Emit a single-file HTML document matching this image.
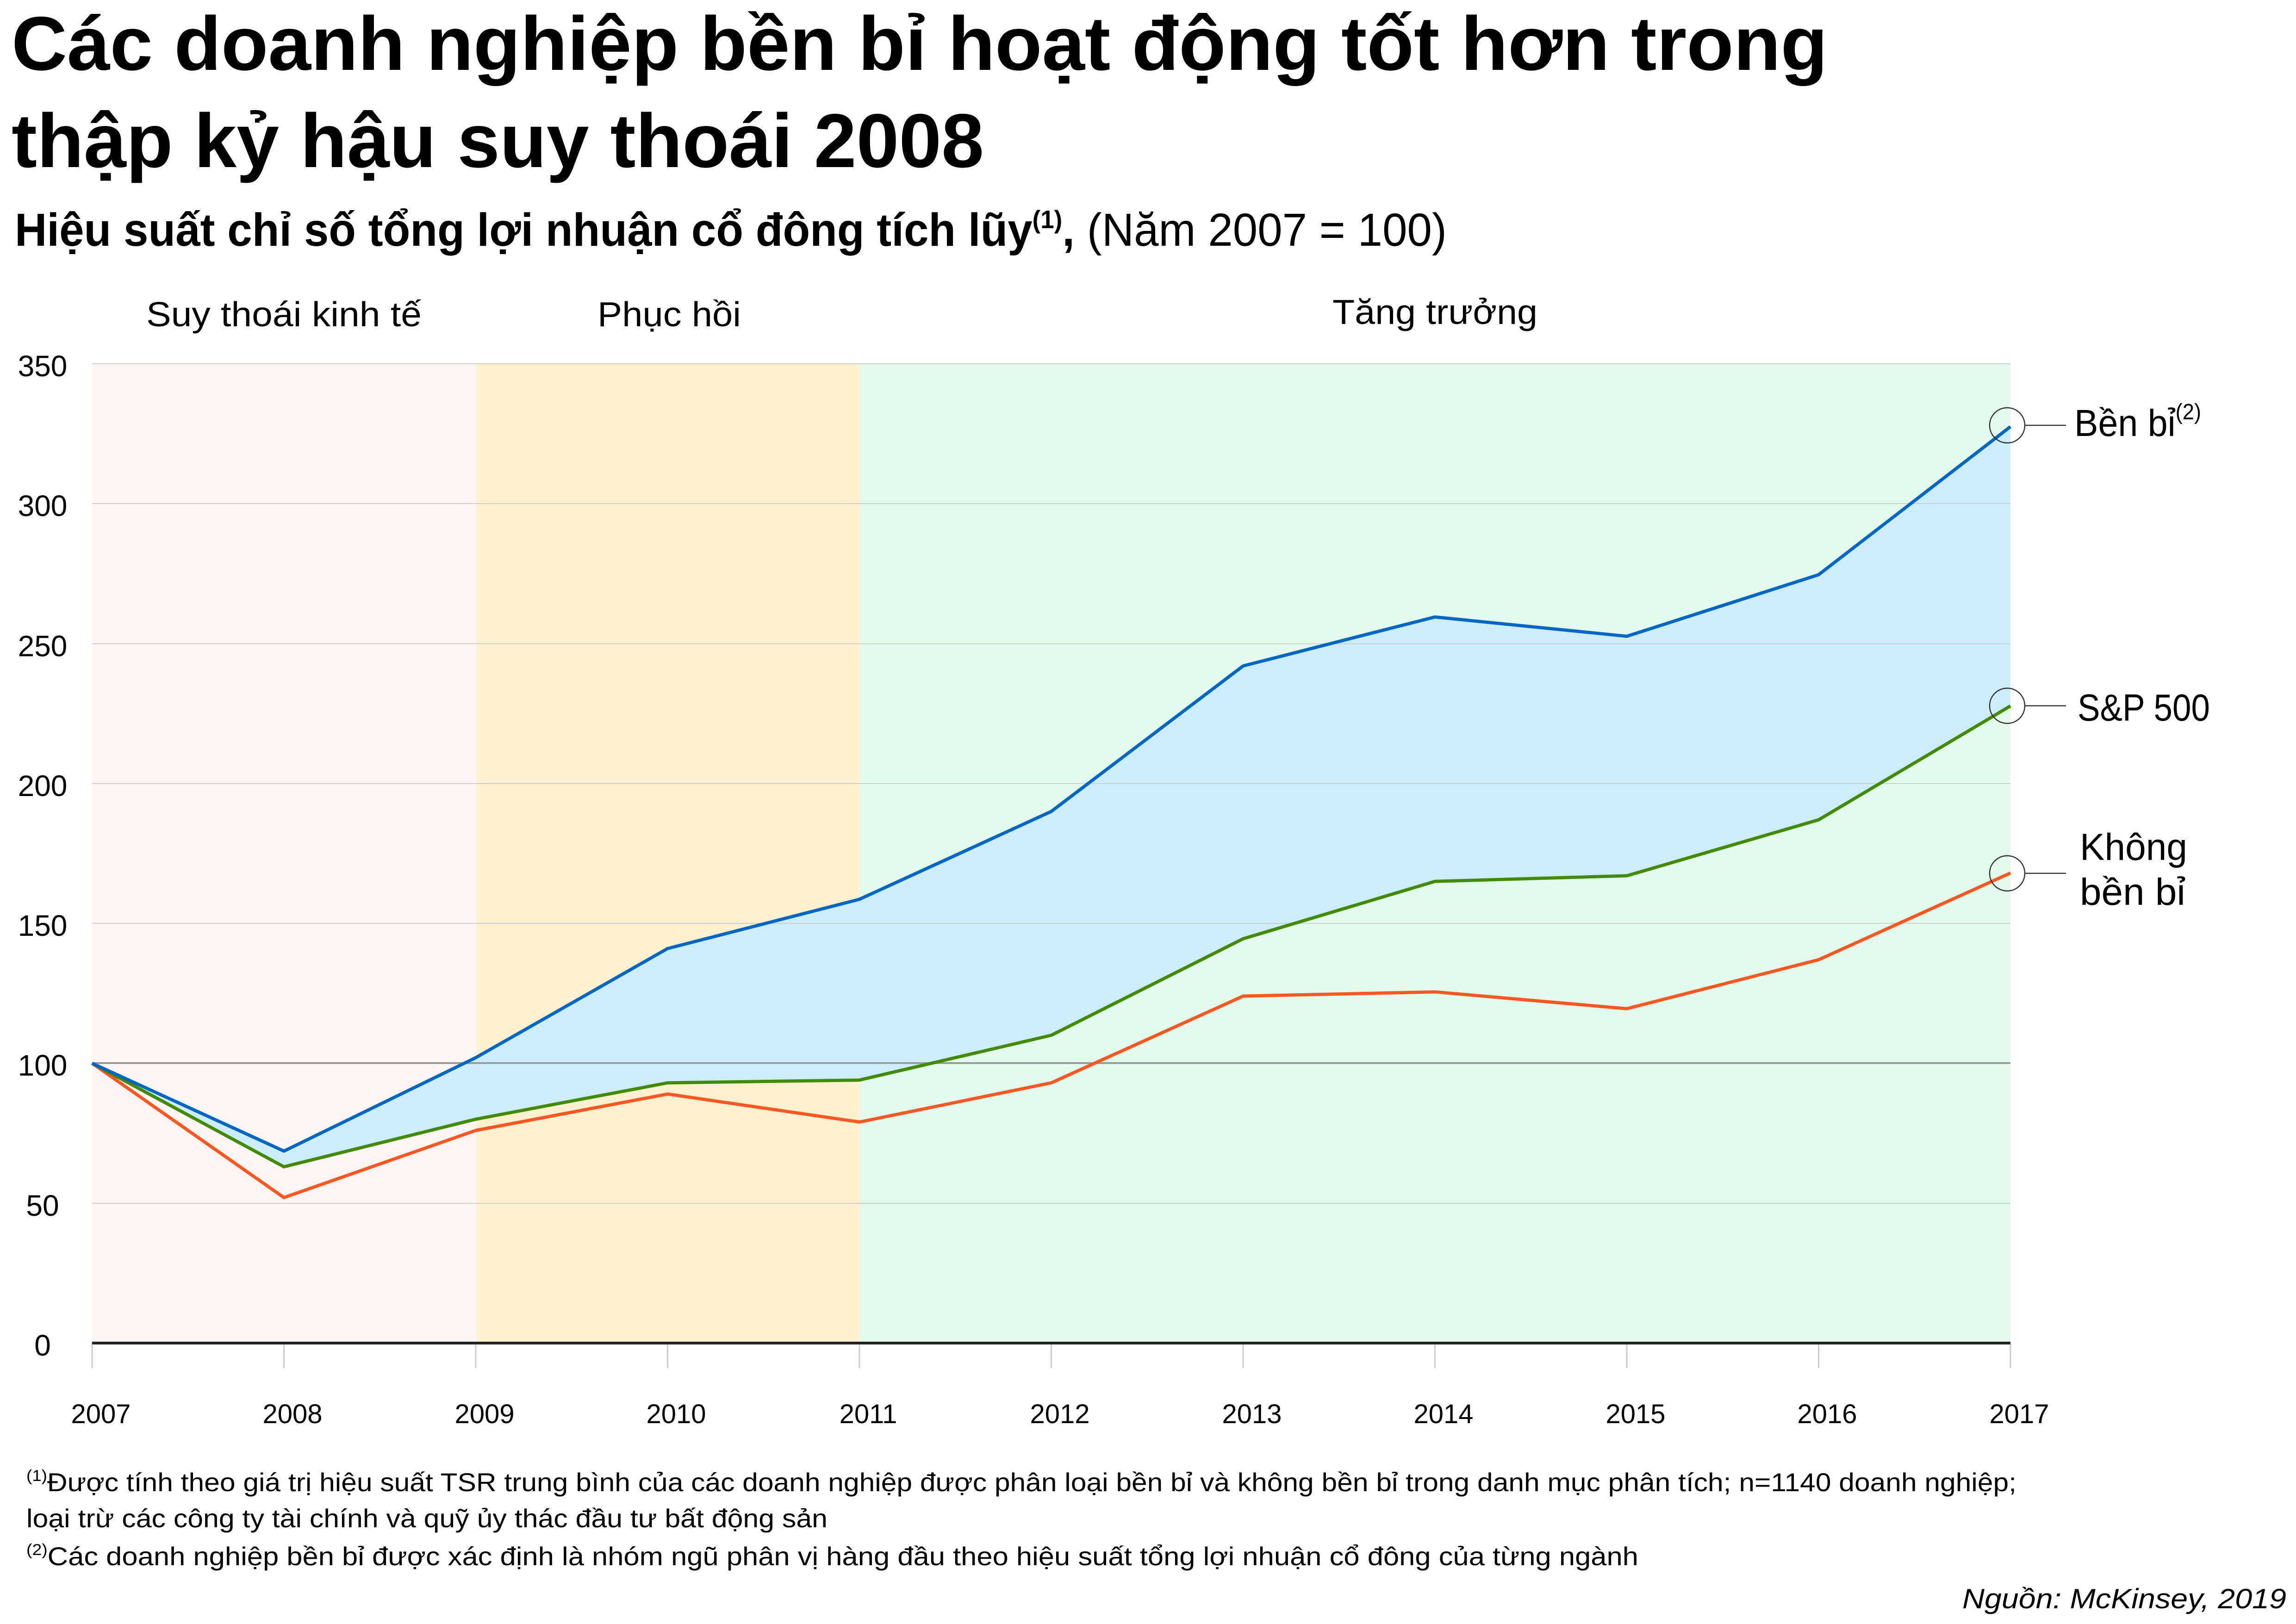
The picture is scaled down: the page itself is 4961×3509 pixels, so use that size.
<!DOCTYPE html>
<html><head><meta charset="utf-8"><style>html,body{margin:0;padding:0;background:#fff}svg{display:block}</style></head>
<body>
<svg width="4961" height="3509" viewBox="0 0 4961 3509" xmlns="http://www.w3.org/2000/svg" font-family="'Liberation Sans', sans-serif">
<rect width="4961" height="3509" fill="#fff"/>
<!-- titles -->
<text x="25" y="151" font-size="165" font-weight="bold" textLength="3924" lengthAdjust="spacingAndGlyphs">Các doanh nghiệp bền bỉ hoạt động tốt hơn trong</text>
<text x="25" y="361" font-size="165" font-weight="bold" textLength="2101" lengthAdjust="spacingAndGlyphs">thập kỷ hậu suy thoái 2008</text>
<text x="32" y="531" font-size="100" textLength="3094" lengthAdjust="spacingAndGlyphs"><tspan font-weight="bold">Hiệu suất chỉ số tổng lợi nhuận cổ đông tích lũy</tspan><tspan font-size="55" dy="-38" font-weight="bold">(1)</tspan><tspan dy="38" font-weight="bold">,</tspan> (Năm 2007 = 100)</text>
<text x="316" y="705" font-size="75" textLength="595" lengthAdjust="spacingAndGlyphs">Suy thoái kinh tế</text>
<text x="1291" y="705" font-size="75" textLength="310" lengthAdjust="spacingAndGlyphs">Phục hồi</text>
<text x="2879" y="700" font-size="75" textLength="443" lengthAdjust="spacingAndGlyphs">Tăng trưởng</text>
<!-- backgrounds -->
<rect x="199" y="786" width="830" height="2116" fill="#fdf5f3"/>
<rect x="1029" y="786" width="828" height="2116" fill="#fff0cf"/>
<rect x="1857" y="786" width="2487" height="2116" fill="#e3fbeb"/>
<!-- fill between blue and green -->
<polygon fill="#cdedfd" points="199,2297.4 613.5,2487.2 1028,2285.3 1442.5,2049.5 1857,1943.1 2271.5,1753.3 2686,1438.9 3100.5,1333.1 3515,1374.8 3929.5,1241.8 4344,921.9 4344,1525.3 3929.5,1771.4 3515,1892.3 3100.5,1904.4 2686,2028.4 2271.5,2236.9 1857,2333.7 1442.5,2339.7 1028,2418.3 613.5,2521.1"/>
<!-- gridlines -->
<g stroke="#cfcfcf" stroke-width="2">
<line x1="199" x2="4344" y1="786" y2="786"/>
<line x1="199" x2="4344" y1="1088" y2="1088"/>
<line x1="199" x2="4344" y1="1391" y2="1391"/>
<line x1="199" x2="4344" y1="1693" y2="1693"/>
<line x1="199" x2="4344" y1="1995" y2="1995"/>
<line x1="199" x2="4344" y1="2600" y2="2600"/>
</g>
<line x1="199" x2="4344" y1="2297" y2="2297" stroke="#9a9a9a" stroke-width="4"/>
<!-- y labels -->
<g font-size="64" text-anchor="middle">
<text x="92" y="813">350</text><text x="92" y="1115">300</text><text x="92" y="1418">250</text>
<text x="92" y="1720">200</text><text x="92" y="2022">150</text><text x="92" y="2324">100</text>
<text x="92" y="2627">50</text><text x="92" y="2929">0</text>
</g>
<!-- series -->
<g fill="none" stroke-width="7" stroke-linejoin="round">
<polyline stroke="#ff5722" points="199,2297.4 613.5,2587.6 1028,2442.5 1442.5,2363.9 1857,2424.4 2271.5,2339.7 2686,2152.3 3100.5,2143.2 3515,2179.5 3929.5,2073.7 4344,1886.3"/>
<polyline stroke="#428a00" points="199,2297.4 613.5,2521.1 1028,2418.3 1442.5,2339.7 1857,2333.7 2271.5,2236.9 2686,2028.4 3100.5,1904.4 3515,1892.3 3929.5,1771.4 4344,1525.3"/>
<polyline stroke="#0066c6" points="199,2297.4 613.5,2487.2 1028,2285.3 1442.5,2049.5 1857,1943.1 2271.5,1753.3 2686,1438.9 3100.5,1333.1 3515,1374.8 3929.5,1241.8 4344,921.9"/>
</g>
<!-- axis -->
<g stroke="#cccccc" stroke-width="3">
<line x1="199" x2="199" y1="2902" y2="2956"/><line x1="613.5" x2="613.5" y1="2902" y2="2956"/>
<line x1="1028" x2="1028" y1="2902" y2="2956"/><line x1="1442.5" x2="1442.5" y1="2902" y2="2956"/>
<line x1="1857" x2="1857" y1="2902" y2="2956"/><line x1="2271.5" x2="2271.5" y1="2902" y2="2956"/>
<line x1="2686" x2="2686" y1="2902" y2="2956"/><line x1="3100.5" x2="3100.5" y1="2902" y2="2956"/>
<line x1="3515" x2="3515" y1="2902" y2="2956"/><line x1="3929.5" x2="3929.5" y1="2902" y2="2956"/>
<line x1="4344" x2="4344" y1="2902" y2="2956"/>
</g>
<line x1="199" x2="4344" y1="2902" y2="2902" stroke="#222" stroke-width="6"/>
<g font-size="58" text-anchor="middle">
<text x="218" y="3075">2007</text><text x="632" y="3075">2008</text><text x="1047" y="3075">2009</text>
<text x="1461" y="3075">2010</text><text x="1876" y="3075">2011</text><text x="2290" y="3075">2012</text>
<text x="2705" y="3075">2013</text><text x="3119" y="3075">2014</text><text x="3534" y="3075">2015</text>
<text x="3948" y="3075">2016</text><text x="4363" y="3075">2017</text>
</g>
<!-- end labels -->
<g fill="none" stroke="#333" stroke-width="2.5">
<circle cx="4337" cy="919" r="38"/><line x1="4375" x2="4464" y1="919" y2="919"/>
<circle cx="4337" cy="1525" r="38"/><line x1="4375" x2="4464" y1="1525" y2="1525"/>
<circle cx="4337" cy="1887" r="38"/><line x1="4375" x2="4464" y1="1887" y2="1887"/>
</g>
<text x="4482" y="942" font-size="82" textLength="274" lengthAdjust="spacingAndGlyphs">Bền bỉ<tspan font-size="48" dy="-36">(2)</tspan></text>
<text x="4489" y="1557" font-size="82" textLength="286" lengthAdjust="spacingAndGlyphs">S&amp;P 500</text>
<text x="4494" y="1858" font-size="82" textLength="232" lengthAdjust="spacingAndGlyphs">Không</text>
<text x="4494" y="1955" font-size="82" textLength="228" lengthAdjust="spacingAndGlyphs">bền bỉ</text>
<!-- footnotes -->
<text x="57" y="3222" font-size="56" textLength="4300" lengthAdjust="spacingAndGlyphs"><tspan font-size="34" dy="-22">(1)</tspan><tspan dy="22">Được tính theo giá trị hiệu suất TSR trung bình của các doanh nghiệp được phân loại bền bỉ và không bền bỉ trong danh mục phân tích; n=1140 doanh nghiệp;</tspan></text>
<text x="57" y="3300" font-size="56" textLength="1731" lengthAdjust="spacingAndGlyphs">loại trừ các công ty tài chính và quỹ ủy thác đầu tư bất động sản</text>
<text x="57" y="3382" font-size="56" textLength="3483" lengthAdjust="spacingAndGlyphs"><tspan font-size="34" dy="-22">(2)</tspan><tspan dy="22">Các doanh nghiệp bền bỉ được xác định là nhóm ngũ phân vị hàng đầu theo hiệu suất tổng lợi nhuận cổ đông của từng ngành</tspan></text>
<text x="4940" y="3475" font-size="60" font-style="italic" text-anchor="end" textLength="700" lengthAdjust="spacingAndGlyphs">Nguồn: McKinsey, 2019</text>
</svg>
</body></html>
